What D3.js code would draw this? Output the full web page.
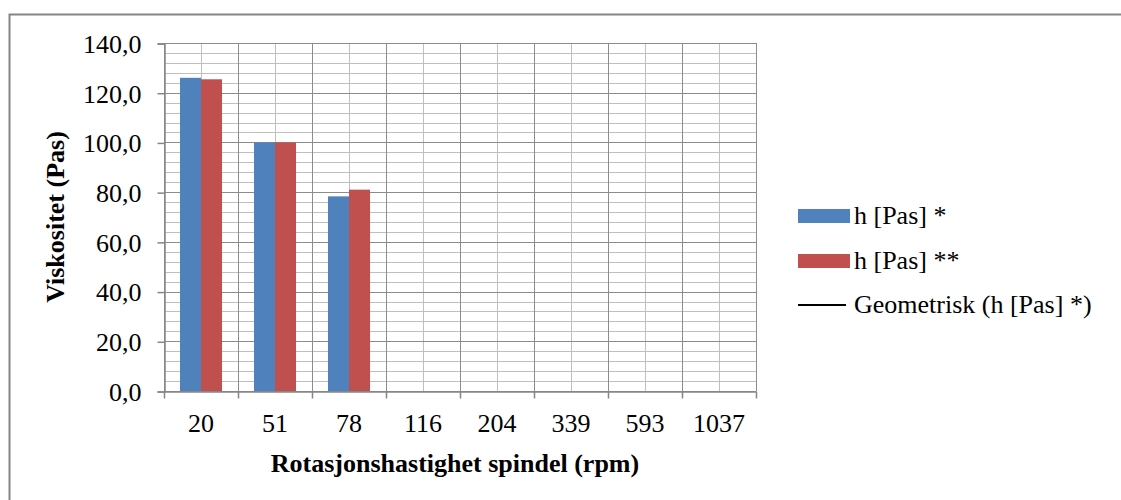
<!DOCTYPE html>
<html>
<head>
<meta charset="utf-8">
<script src="https://cdn.jsdelivr.net/npm/d3@7/dist/d3.min.js"></script>
<style>
  html, body { margin: 0; padding: 0; background: #fff; }
  svg { display: block; }
</style>
</head>
<body>
<svg id="chart" width="1121" height="500"></svg>
<script>
// Rotation speeds of the spindle (rpm)
const categories = ["20", "51", "78", "116", "204", "339", "593", "1037"];
// Viscosity, measurement series *
const seriesA = [126.0, 100.0, 78.3, null, null, null, null, null];
// Viscosity, measurement series **
const seriesB = [125.4, 100.0, 81.0, null, null, null, null, null];
const seriesNames = ["h [Pas] *", "h [Pas] **"];
const trendName = "Geometrisk (h [Pas] *)";
const yTicks = [0, 20, 40, 60, 80, 100, 120, 140];
const colors = ["#4F81BD", "#C0504D"];

const FONT = '"Liberation Serif", "Times New Roman", serif';
const FS = "26px";

const svg = d3.select("#chart");
const W = 1121, H = 500;

// outer chart frame (runs off the right and bottom edges)
svg.append("rect")
  .attr("x", 9.5).attr("y", 14.5)
  .attr("width", W).attr("height", H)
  .attr("fill", "#fff").attr("stroke", "#868686").attr("stroke-width", 2);

const plot = { left: 164, right: 756, top: 43, bottom: 391 };

const x = d3.scaleBand().domain(categories)
  .range([plot.left, plot.right]).paddingInner(0).paddingOuter(0);
const xInner = d3.scaleBand().domain([0, 1])
  .range([0, x.bandwidth()]).paddingInner(0).paddingOuter(0.76);
const y = d3.scaleLinear().domain([0, 140]).range([plot.bottom, plot.top]);

const g = svg.append("g");

// minor horizontal gridlines every 4
const minor = d3.range(0, 141, 4).filter(v => v % 20 !== 0);
g.selectAll("line.hminor").data(minor).join("line")
  .attr("x1", plot.left).attr("x2", plot.right)
  .attr("y1", d => Math.round(y(d)) + 0.5).attr("y2", d => Math.round(y(d)) + 0.5)
  .attr("stroke", "#BFBFBF").attr("stroke-width", 1);

// minor vertical gridlines at category centres
g.selectAll("line.vminor").data(categories).join("line")
  .attr("x1", d => Math.round(x(d) + x.bandwidth() / 2) + 0.5)
  .attr("x2", d => Math.round(x(d) + x.bandwidth() / 2) + 0.5)
  .attr("y1", plot.top).attr("y2", plot.bottom)
  .attr("stroke", "#BFBFBF").attr("stroke-width", 1);

// major horizontal gridlines
g.selectAll("line.hmajor").data(yTicks).join("line")
  .attr("x1", plot.left).attr("x2", plot.right)
  .attr("y1", d => Math.round(y(d)) + 0.5).attr("y2", d => Math.round(y(d)) + 0.5)
  .attr("stroke", "#8C8C8C").attr("stroke-width", 1);

// major vertical gridlines at category boundaries
const bounds = categories.map(c => x(c)).concat([plot.right]);
g.selectAll("line.vmajor").data(bounds).join("line")
  .attr("x1", d => Math.round(d) + 0.5).attr("x2", d => Math.round(d) + 0.5)
  .attr("y1", plot.top).attr("y2", plot.bottom)
  .attr("stroke", "#8C8C8C").attr("stroke-width", 1);

// bars
[seriesA, seriesB].forEach((vals, si) => {
  g.selectAll("rect.s" + si)
    .data(categories.map((c, i) => ({ c, v: vals[i] })).filter(d => d.v != null))
    .join("rect")
    .attr("x", d => x(d.c) + xInner(si))
    .attr("width", xInner.bandwidth())
    .attr("y", d => y(d.v))
    .attr("height", d => y(0) - y(d.v))
    .attr("fill", colors[si]);
});

// y axis
const yAxis = d3.axisLeft(y).tickValues(yTicks).tickSize(7).tickPadding(16)
  .tickFormat(d => d3.format(".1f")(d).replace(".", ","));
const ya = svg.append("g").attr("transform", `translate(${plot.left + 0.5},0.5)`).call(yAxis)
  .attr("font-family", FONT).attr("font-size", FS);
ya.select(".domain").attr("stroke", "#868686").attr("stroke-width", 1.5);
ya.selectAll(".tick line").attr("stroke", "#868686").attr("stroke-width", 1.5);
ya.selectAll("text").attr("fill", "#000").attr("dy", "0.34em");

// x axis, ticks at category boundaries
const xAxis = d3.axisBottom(x).tickSize(0).tickPadding(22);
const xa = svg.append("g").attr("transform", `translate(0,${plot.bottom + 0.5})`).call(xAxis)
  .attr("font-family", FONT).attr("font-size", FS);
xa.select(".domain").attr("stroke", "#868686").attr("stroke-width", 1.5);
xa.selectAll("text").attr("fill", "#000").attr("dy", "0.71em");
xa.selectAll("line.bt").data(bounds).join("line").attr("class", "bt")
  .attr("x1", d => Math.round(d) + 0.5).attr("x2", d => Math.round(d) + 0.5)
  .attr("y1", 0).attr("y2", 7)
  .attr("stroke", "#868686").attr("stroke-width", 1.5);

// axis titles
svg.append("text")
  .attr("x", (plot.left + plot.right) / 2 - 5).attr("y", 472)
  .attr("text-anchor", "middle")
  .attr("font-family", FONT).attr("font-size", FS).attr("font-weight", "bold")
  .text("Rotasjonshastighet spindel (rpm)");

svg.append("text")
  .attr("transform", `translate(64,${(plot.top + plot.bottom) / 2}) rotate(-90)`)
  .attr("text-anchor", "middle")
  .attr("font-family", FONT).attr("font-size", FS).attr("font-weight", "bold")
  .text("Viskositet (Pas)");

// legend
const lg = svg.append("g").attr("font-family", FONT).attr("font-size", FS);
const legendY = [216, 261, 305];
seriesNames.forEach((name, i) => {
  lg.append("rect").attr("x", 798).attr("y", legendY[i] - 7)
    .attr("width", 52).attr("height", 14).attr("fill", colors[i]);
  lg.append("text").attr("x", 854).attr("y", legendY[i] + 8).text(name);
});
lg.append("line").attr("x1", 798).attr("x2", 846)
  .attr("y1", legendY[2]).attr("y2", legendY[2])
  .attr("stroke", "#000").attr("stroke-width", 2);
lg.append("text").attr("x", 854).attr("y", legendY[2] + 8).text(trendName);
</script>
</body>
</html>
